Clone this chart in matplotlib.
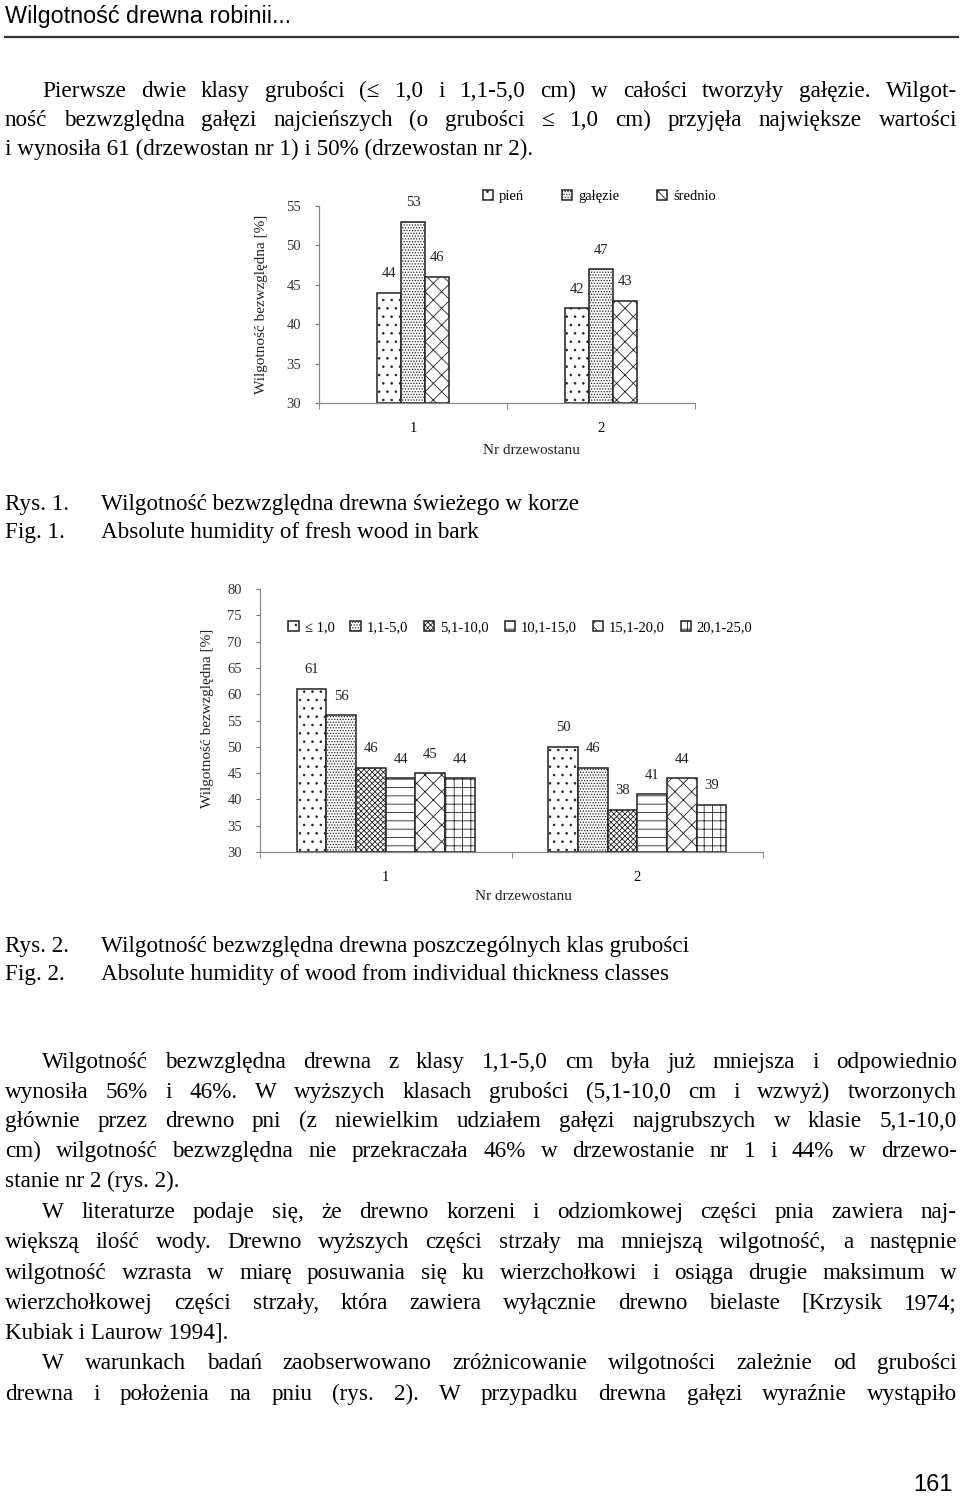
import matplotlib
matplotlib.use("Agg")
import matplotlib.pyplot as plt

plt.rcParams['font.family'] = ['Liberation Serif', 'DejaVu Serif']
plt.rcParams['hatch.linewidth'] = 0.6

W, H = 960, 1504

# dane - rys. 1
stands = ['1', '2']
parts = ['pień', 'gałęzie', 'średnio']
humidity_parts = [[44, 42], [53, 47], [46, 43]]
hatch1 = ['..', '......', 'xx']

# dane - rys. 2
classes = ['≤ 1,0', '1,1-5,0', '5,1-10,0', '10,1-15,0', '15,1-20,0', '20,1-25,0']
humidity_classes = [[61, 50], [56, 46], [46, 38], [44, 41], [45, 44], [44, 39]]
hatch2 = ['..', '......', 'xxxxxx', '--', 'xx', '++']

# tekst strony
header = 'Wilgotność drewna robinii...'
para1 = [
    ('Pierwsze dwie klasy grubości (≤ 1,0 i 1,1-5,0 cm) w całości tworzyły gałęzie. Wilgot-', True, True),
    ('ność bezwzględna gałęzi najcieńszych (o grubości ≤ 1,0 cm) przyjęła największe wartości', False, True),
    ('i wynosiła 61 (drzewostan nr 1) i 50% (drzewostan nr 2).', False, False),
]
para1_y = [90, 119, 148]
captions = [
    ('Rys. 1.', 'Wilgotność bezwzględna drewna świeżego w korze', 503),
    ('Fig. 1.', 'Absolute humidity of fresh wood in bark', 531),
    ('Rys. 2.', 'Wilgotność bezwzględna drewna poszczególnych klas grubości', 945),
    ('Fig. 2.', 'Absolute humidity of wood from individual thickness classes', 973),
]
para2 = [
    ('Wilgotność bezwzględna drewna z klasy 1,1-5,0 cm była już mniejsza i odpowiednio', True, True),
    ('wynosiła 56% i 46%. W wyższych klasach grubości (5,1-10,0 cm i wzwyż) tworzonych', False, True),
    ('głównie przez drewno pni (z niewielkim udziałem gałęzi najgrubszych w klasie 5,1-10,0', False, True),
    ('cm) wilgotność bezwzględna nie przekraczała 46% w drzewostanie nr 1 i  44% w drzewo-', False, True),
    ('stanie nr 2 (rys. 2).', False, False),
    ('W literaturze podaje się, że drewno korzeni i odziomkowej części pnia zawiera naj-', True, True),
    ('większą ilość wody. Drewno wyższych części strzały ma mniejszą wilgotność, a następnie', False, True),
    ('wilgotność wzrasta w miarę posuwania się ku wierzchołkowi i osiąga drugie maksimum w', False, True),
    ('wierzchołkowej części strzały, która zawiera wyłącznie drewno bielaste [Krzysik 1974;', False, True),
    ('Kubiak i Laurow 1994].', False, False),
    ('W warunkach badań zaobserwowano zróżnicowanie wilgotności zależnie od grubości', True, True),
    ('drewna i położenia na pniu (rys. 2). W przypadku drewna gałęzi wyraźnie wystąpiło', False, True),
]
para2_y = [1061, 1091, 1120, 1150, 1180, 1211, 1241, 1272, 1302, 1332, 1362, 1393]

fig = plt.figure(figsize=(W / 100, H / 100), dpi=100)
renderer = fig.canvas.get_renderer()
BODY = 16.7
LEFT, RIGHT, INDENT = 5, 957, 42
BASE = 7  # przesuniecie linii bazowej od srodka wiersza


def px(x, y):
    return x / W, 1 - y / H


def body_line(text, y, indent, justify):
    x0 = INDENT if indent else LEFT
    y = y + BASE
    if not justify:
        fig.text(*px(x0, y), text, fontsize=BODY, va='baseline', ha='left')
        return
    words = text.split()
    objs = [fig.text(*px(x0, y), w, fontsize=BODY, va='baseline', ha='left') for w in words]
    widths = [t.get_window_extent(renderer).width for t in objs]
    gap = (RIGHT - x0 - sum(widths)) / (len(words) - 1)
    x = x0
    for t, w in zip(objs, widths):
        t.set_x(x / W)
        x += w + gap


# naglowek
fig.text(*px(5, 17), header, family='Liberation Sans', fontsize=16.8, va='center')
fig.add_artist(plt.Line2D([5 / W, 958 / W], [1 - 37 / H] * 2, color='#333333', lw=1.6))

for (line, ind, just), y in zip(para1, para1_y):
    body_line(line, y, ind, just)
for (line, ind, just), y in zip(para2, para2_y):
    body_line(line, y, ind, just)
for lab, txt, y in captions:
    fig.text(*px(5, y + BASE), lab, fontsize=BODY, va='baseline')
    fig.text(*px(101, y + BASE), txt, fontsize=BODY, va='baseline')

fig.text(*px(953, 1485), '161', family='Liberation Sans', fontsize=17, va='center', ha='right')


def style_axes(ax, ylim, step):
    ax.set_ylim(*ylim)
    ax.set_yticks(range(ylim[0], ylim[1] + 1, step))
    ax.set_xlim(-0.5, 1.5)
    ax.set_xticks([0, 1])
    ax.set_xticklabels(stands)
    ax.set_xticks([-0.5, 0.5, 1.5], minor=True)
    ax.tick_params(axis='x', which='major', length=0, pad=14, labelsize=10.5)
    ax.tick_params(axis='x', which='minor', length=4, color='#777777')
    ax.tick_params(axis='y', length=3, color='#777777', pad=10, labelsize=10.5, labelcolor='#333333')
    for s in ['top', 'right']:
        ax.spines[s].set_visible(False)
    for s in ['left', 'bottom']:
        ax.spines[s].set_color('#888888')
        ax.spines[s].set_linewidth(0.9)


def grouped_bars(ax, values, hatches, labels, width):
    n = len(values)
    base = ax.get_ylim()[0]
    for i, (vals, h) in enumerate(zip(values, hatches)):
        xs = [k + (i - (n - 1) / 2) * width for k in range(len(stands))]
        bars = ax.bar(xs, [v - base for v in vals], width, bottom=base,
                      color='white', edgecolor='#222222', hatch=h, linewidth=1.1, label=labels[i])
        for b, v in zip(bars, vals):
            ax.annotate(str(v), (b.get_x() + b.get_width() / 2, v), xytext=(0, 9),
                        textcoords='offset points', ha='center', va='bottom', fontsize=10.5,
                        color='#222222', annotation_clip=False)


# rys. 1
ax1 = fig.add_axes([319 / W, 1 - 403 / H, (695 - 319) / W, (403 - 206) / H])
style_axes(ax1, (30, 55), 5)
grouped_bars(ax1, humidity_parts, hatch1, parts, 0.128)
ax1.legend(loc='lower left', bbox_to_anchor=(0.42, 0.985), ncol=3, frameon=False,
           handlelength=0.7, handleheight=0.7, handletextpad=0.4, columnspacing=2.6,
           fontsize=10.5, borderaxespad=0)
fig.text(*px(262, 304), 'Wilgotność bezwzględna [%]', rotation=90, fontsize=11,
         ha='center', va='center', color='#222222')
fig.text(*px(531, 451), 'Nr drzewostanu', fontsize=11, ha='center', va='center', color='#222222')

# rys. 2
ax2 = fig.add_axes([260 / W, 1 - 852 / H, (763 - 260) / W, (852 - 589) / H])
style_axes(ax2, (30, 80), 5)
grouped_bars(ax2, humidity_classes, hatch2, classes, 0.118)
ax2.legend(loc='center left', bbox_to_anchor=(0.045, 0.854), ncol=6, frameon=False,
           handlelength=0.7, handleheight=0.7, handletextpad=0.4, columnspacing=1.1,
           fontsize=10.5, borderaxespad=0)
fig.text(*px(207, 718), 'Wilgotność bezwzględna [%]', rotation=90, fontsize=11,
         ha='center', va='center', color='#222222')
fig.text(*px(523, 897), 'Nr drzewostanu', fontsize=11, ha='center', va='center', color='#222222')

fig.savefig('out.png', dpi=100, facecolor='white')
